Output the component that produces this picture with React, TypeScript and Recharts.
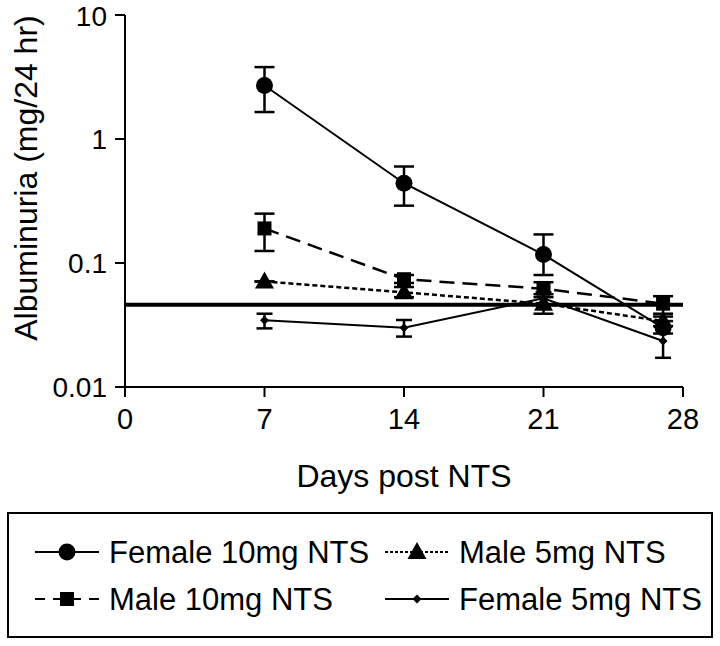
import React from "react";
import { LineChart, Line, XAxis, YAxis, ErrorBar, ReferenceLine, Label } from "recharts";

const days = [7, 14, 21, 27];
const xTicks = [0, 7, 14, 21, 28];
const yTicks = [0.01, 0.1, 1, 10];
const baseline = 0.046;

const female10Mean = [2.7, 0.44, 0.117, 0.03];
const female10Low = [1.65, 0.29, 0.08, 0.027];
const female10High = [3.8, 0.6, 0.17, 0.034];

const male10Mean = [0.19, 0.074, 0.062, 0.047];
const male10Low = [0.125, 0.069, 0.056, 0.039];
const male10High = [0.25, 0.08, 0.07, 0.054];

const male5Mean = [0.071, 0.058, 0.047, 0.034];
const male5Low = [0.071, 0.053, 0.039, 0.031];
const male5High = [0.071, 0.064, 0.053, 0.037];

const female5Mean = [0.0345, 0.03, 0.052, 0.0235];
const female5Low = [0.0297, 0.0255, 0.046, 0.0172];
const female5High = [0.039, 0.0347, 0.058, 0.029];

const FONT = "'Liberation Sans', Arial, sans-serif";

const toRows = (mean: number[], low: number[], high: number[]) =>
    days.map((d, i) => ({
        day: d,
        value: mean[i],
        err: [mean[i] - low[i], high[i] - mean[i]],
    }));

const female10 = toRows(female10Mean, female10Low, female10High);
const male10 = toRows(male10Mean, male10Low, male10High);
const male5 = toRows(male5Mean, male5Low, male5High);
const female5 = toRows(female5Mean, female5Low, female5High);

const CircleDot = (p: any) => <circle key={`c${p.index}`} cx={p.cx} cy={p.cy} r={8.5} fill="#000" />;
const SquareDot = (p: any) => <rect key={`s${p.index}`} x={p.cx - 7} y={p.cy - 7} width={14} height={14} fill="#000" />;
const TriangleDot = (p: any) => (
    <polygon key={`t${p.index}`} points={`${p.cx},${p.cy - 10} ${p.cx + 9.5},${p.cy + 7} ${p.cx - 9.5},${p.cy + 7}`} fill="#000" />
);
const DiamondDot = (p: any) => (
    <polygon key={`d${p.index}`} points={`${p.cx},${p.cy - 4.5} ${p.cx + 4.5},${p.cy} ${p.cx},${p.cy + 4.5} ${p.cx - 4.5},${p.cy}`} fill="#000" />
);

const YTitle = () => (
    <text x={37} y={178} transform="rotate(-90 37 178)" textAnchor="middle" fontSize={32} fontFamily={FONT} fill="#000">
        Albuminuria (mg/24 hr)
    </text>
);

const legendItems = [
    { name: "Female 10mg NTS", x: 35, y: 552, dash: undefined, marker: "circle" },
    { name: "Male 5mg NTS", x: 385, y: 552, dash: "3 2", marker: "triangle" },
    { name: "Male 10mg NTS", x: 35, y: 599, dash: "10 8", marker: "square" },
    { name: "Female 5mg NTS", x: 385, y: 599, dash: undefined, marker: "diamond" },
];

const LegendBox = () => (
    <svg width={720} height={646} style={{ position: "absolute", left: 0, top: 0 }}>
        <rect x={8} y={513} width={704} height={124} fill="none" stroke="#000" strokeWidth={2} />
        {legendItems.map((it) => {
            const cx = it.x + 32;
            return (
                <g key={it.name}>
                    <line x1={it.x} x2={it.x + 64} y1={it.y} y2={it.y} stroke="#000" strokeWidth={2} strokeDasharray={it.dash} />
                    {it.marker === "circle" && <CircleDot cx={cx} cy={it.y} index={0} />}
                    {it.marker === "square" && <SquareDot cx={cx} cy={it.y} index={0} />}
                    {it.marker === "triangle" && <TriangleDot cx={cx} cy={it.y} index={0} />}
                    {it.marker === "diamond" && <DiamondDot cx={cx} cy={it.y} index={0} />}
                    <text x={it.x + 74} y={it.y + 11} fontSize={31} fontFamily={FONT} fill="#000">
                        {it.name}
                    </text>
                </g>
            );
        })}
    </svg>
);

export default function App() {
    return (
        <div style={{ position: "absolute", left: 0, top: 0, width: 720, height: 646, background: "#fff" }}>
            <LineChart width={720} height={500} margin={{ top: 15, right: 37, bottom: 13, left: 0 }}>
                <XAxis
                    type="number"
                    dataKey="day"
                    domain={[0, 28]}
                    ticks={xTicks}
                    height={100}
                    tickSize={10}
                    tickMargin={11}
                    stroke="#000"
                    strokeWidth={2}
                    tick={{ fill: "#000", fontSize: 29, fontFamily: FONT }}
                    allowDuplicatedCategory={false}
                >
                    <Label value="Days post NTS" position="insideBottom" offset={0} fontSize={32} fontFamily={FONT} fill="#000" />
                </XAxis>
                <YAxis
                    type="number"
                    scale="log"
                    domain={[0.01, 10]}
                    ticks={yTicks}
                    allowDataOverflow
                    width={125}
                    tickSize={10}
                    tickMargin={8}
                    stroke="#000"
                    strokeWidth={2}
                    tick={{ fill: "#000", fontSize: 28, fontFamily: FONT }}
                >
                    <Label content={<YTitle />} />
                </YAxis>
                <ReferenceLine y={baseline} stroke="#000" strokeWidth={4} />
                <Line data={female10} dataKey="value" stroke="#000" strokeWidth={2} dot={CircleDot} activeDot={false} isAnimationActive={false}>
                    <ErrorBar dataKey="err" direction="y" width={10} stroke="#000" strokeWidth={2.5} />
                </Line>
                <Line data={male10} dataKey="value" stroke="#000" strokeWidth={2.5} strokeDasharray="15 8" dot={SquareDot} activeDot={false} isAnimationActive={false}>
                    <ErrorBar dataKey="err" direction="y" width={10} stroke="#000" strokeWidth={2.5} />
                </Line>
                <Line data={male5} dataKey="value" stroke="#000" strokeWidth={2.5} strokeDasharray="5 3" dot={TriangleDot} activeDot={false} isAnimationActive={false}>
                    <ErrorBar dataKey="err" direction="y" width={10} stroke="#000" strokeWidth={2.5} />
                </Line>
                <Line data={female5} dataKey="value" stroke="#000" strokeWidth={2} dot={DiamondDot} activeDot={false} isAnimationActive={false}>
                    <ErrorBar dataKey="err" direction="y" width={8} stroke="#000" strokeWidth={2.5} />
                </Line>
            </LineChart>
            <LegendBox />
        </div>
    );
}
